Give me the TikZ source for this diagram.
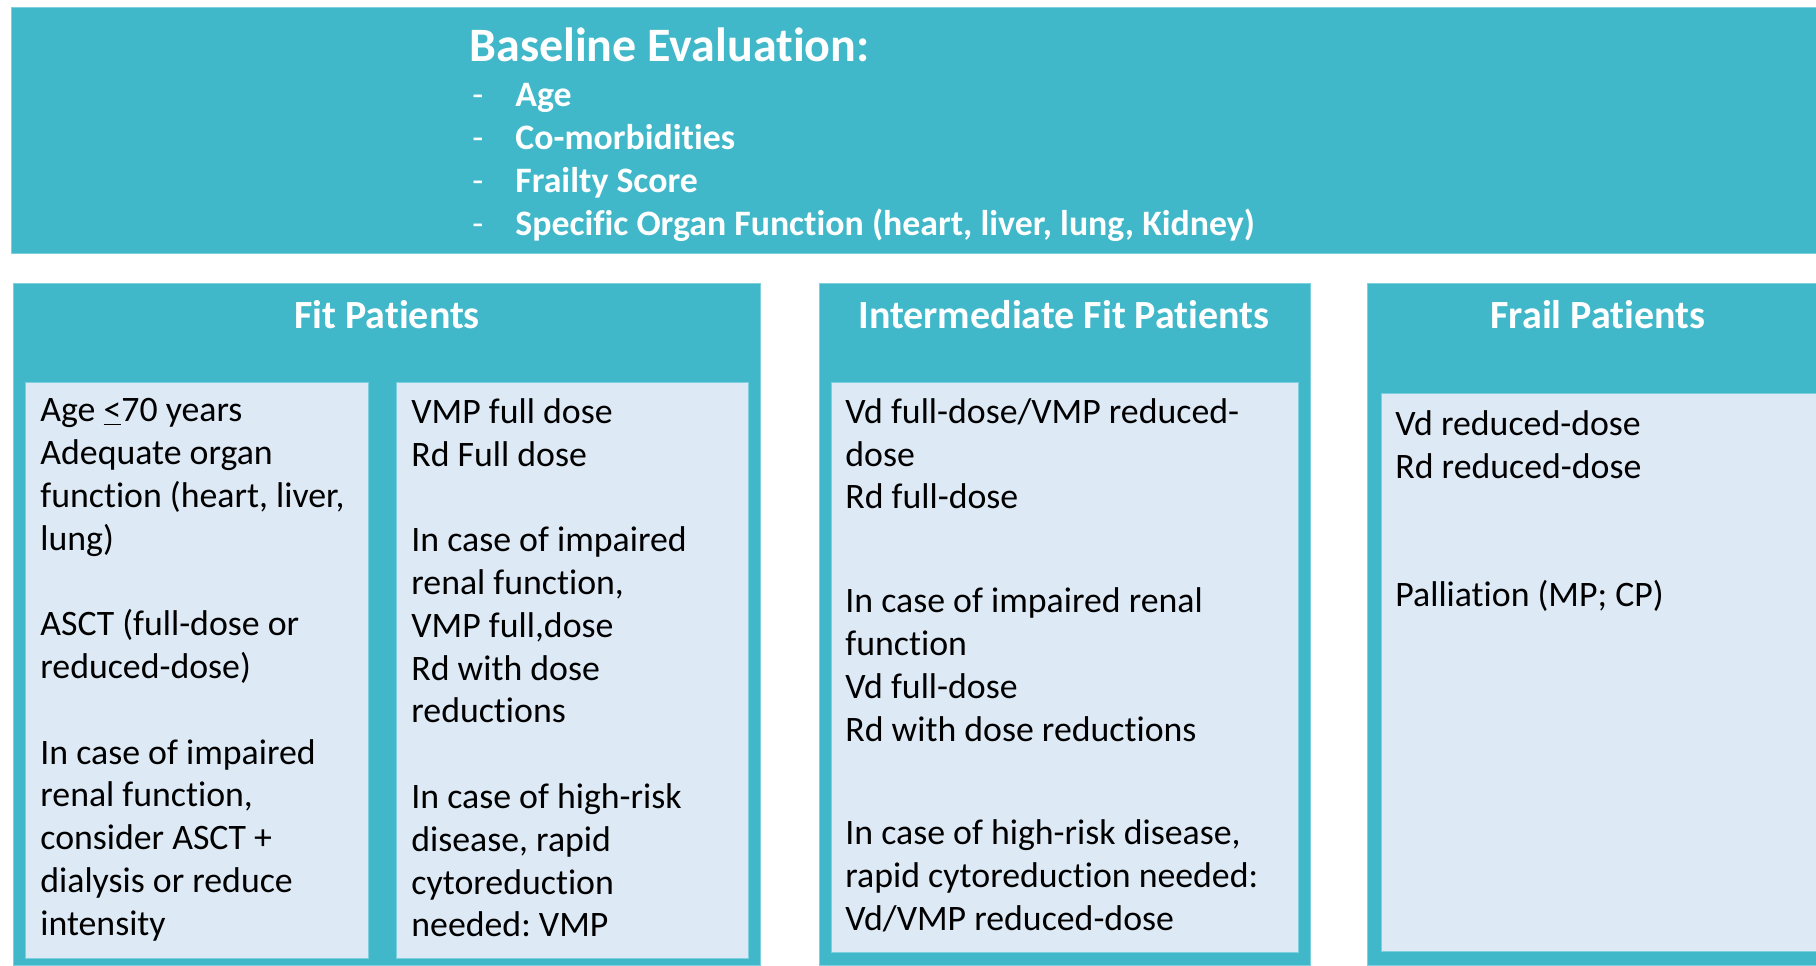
\documentclass[tikz,border=0pt]{standalone}
\usepackage{fontspec}
\setmainfont{Carlito}[Ligatures=NoCommon]
\frenchspacing
\usetikzlibrary{positioning}
\definecolor{tealbox}{RGB}{64,184,201}
\definecolor{tealedge}{RGB}{125,208,222}
\definecolor{paleblue}{RGB}{221,233,245}

\begin{document}
\begin{tikzpicture}[x=0.5pt,y=-0.5pt,
    panel/.style={fill=tealbox,draw=tealedge,line width=0.4pt},
    inbox/.style={fill=paleblue,draw=tealedge,line width=0.4pt},
    head/.style={text=white,inner sep=0pt,font=\fontsize{20}{24}\selectfont\bfseries},
    item/.style={text=white,inner sep=0pt,anchor=base west,font=\fontsize{17.9}{22}\selectfont\bfseries},
    body/.style={anchor=north west,align=left,inner sep=0pt,font=\fontsize{17.9}{21.4}\selectfont}]
    \useasboundingbox (0,0) rectangle (1816,965);
    %banner in alto
    \draw[panel] (11,7) rectangle (1816,253);
    \node[item,font=\fontsize{24}{28}\selectfont\bfseries] (base) at (469,61) {Baseline Evaluation:};
    \node[item,font=\fontsize{17.9}{22}\selectfont] (d1) at (472,106) {-};
    \node[item] (age) at (515,106) {Age};
    \node[item,font=\fontsize{17.9}{22}\selectfont] (d2) at (472,149) {-};
    \node[item] (comorb) at (515,149) {Co-morbidities};
    \node[item,font=\fontsize{17.9}{22}\selectfont] (d3) at (472,192) {-};
    \node[item] (frailty) at (515,192) {Frailty Score};
    \node[item,font=\fontsize{17.9}{22}\selectfont] (d4) at (472,235) {-};
    \node[item] (organ) at (515,235) {Specific Organ Function (heart, liver, lung, Kidney)};
    %colonna fit
    \draw[panel] (13,283) rectangle (760,965);
    \node[head] (fit) at (387,315) {Fit Patients};
    \draw[inbox] (25,382) rectangle (368,958);
    \draw[inbox] (396,382) rectangle (748,958);
    \node[body] (fitA) at (40,398) {Age \underline{<}70 years\\
        Adequate organ\\
        function (heart, liver,\\
        lung)\\[21.4pt]
        ASCT (full-dose or\\
        reduced-dose)\\[21.4pt]
        In case of impaired\\
        renal function,\\
        consider ASCT +\\
        dialysis or reduce\\
        intensity};
    \node[body] (fitB) at (411,398) {VMP full dose\\
        Rd Full dose\\[21.4pt]
        In case of impaired\\
        renal function,\\
        VMP full,dose\\
        Rd with dose\\
        reductions\\[21.4pt]
        In case of high-risk\\
        disease, rapid\\
        cytoreduction\\
        needed: VMP};
    %colonna intermedia
    \draw[panel] (819,283) rectangle (1310,965);
    \node[head] (mid) at (1064,315) {Intermediate Fit Patients};
    \draw[inbox] (831,382) rectangle (1298,952);
    \node[body] (midA) at (845,398) {Vd full-dose/VMP reduced-\\
        dose\\
        Rd full-dose\\[30.5pt]
        In case of impaired renal\\
        function\\
        Vd full-dose\\
        Rd with dose reductions\\[30.5pt]
        In case of high-risk disease,\\
        rapid cytoreduction needed:\\
        Vd/VMP reduced-dose};
    %colonna frail
    \draw[panel] (1367,283) rectangle (1816,965);
    \node[head] (frail) at (1598,315) {Frail Patients};
    \draw[inbox] (1381,393) rectangle (1816,951);
    \node[body] (frailA) at (1395,410) {Vd reduced-dose\\
        Rd reduced-dose\\[42.8pt]
        Palliation (MP; CP)};
\end{tikzpicture}
\end{document}
